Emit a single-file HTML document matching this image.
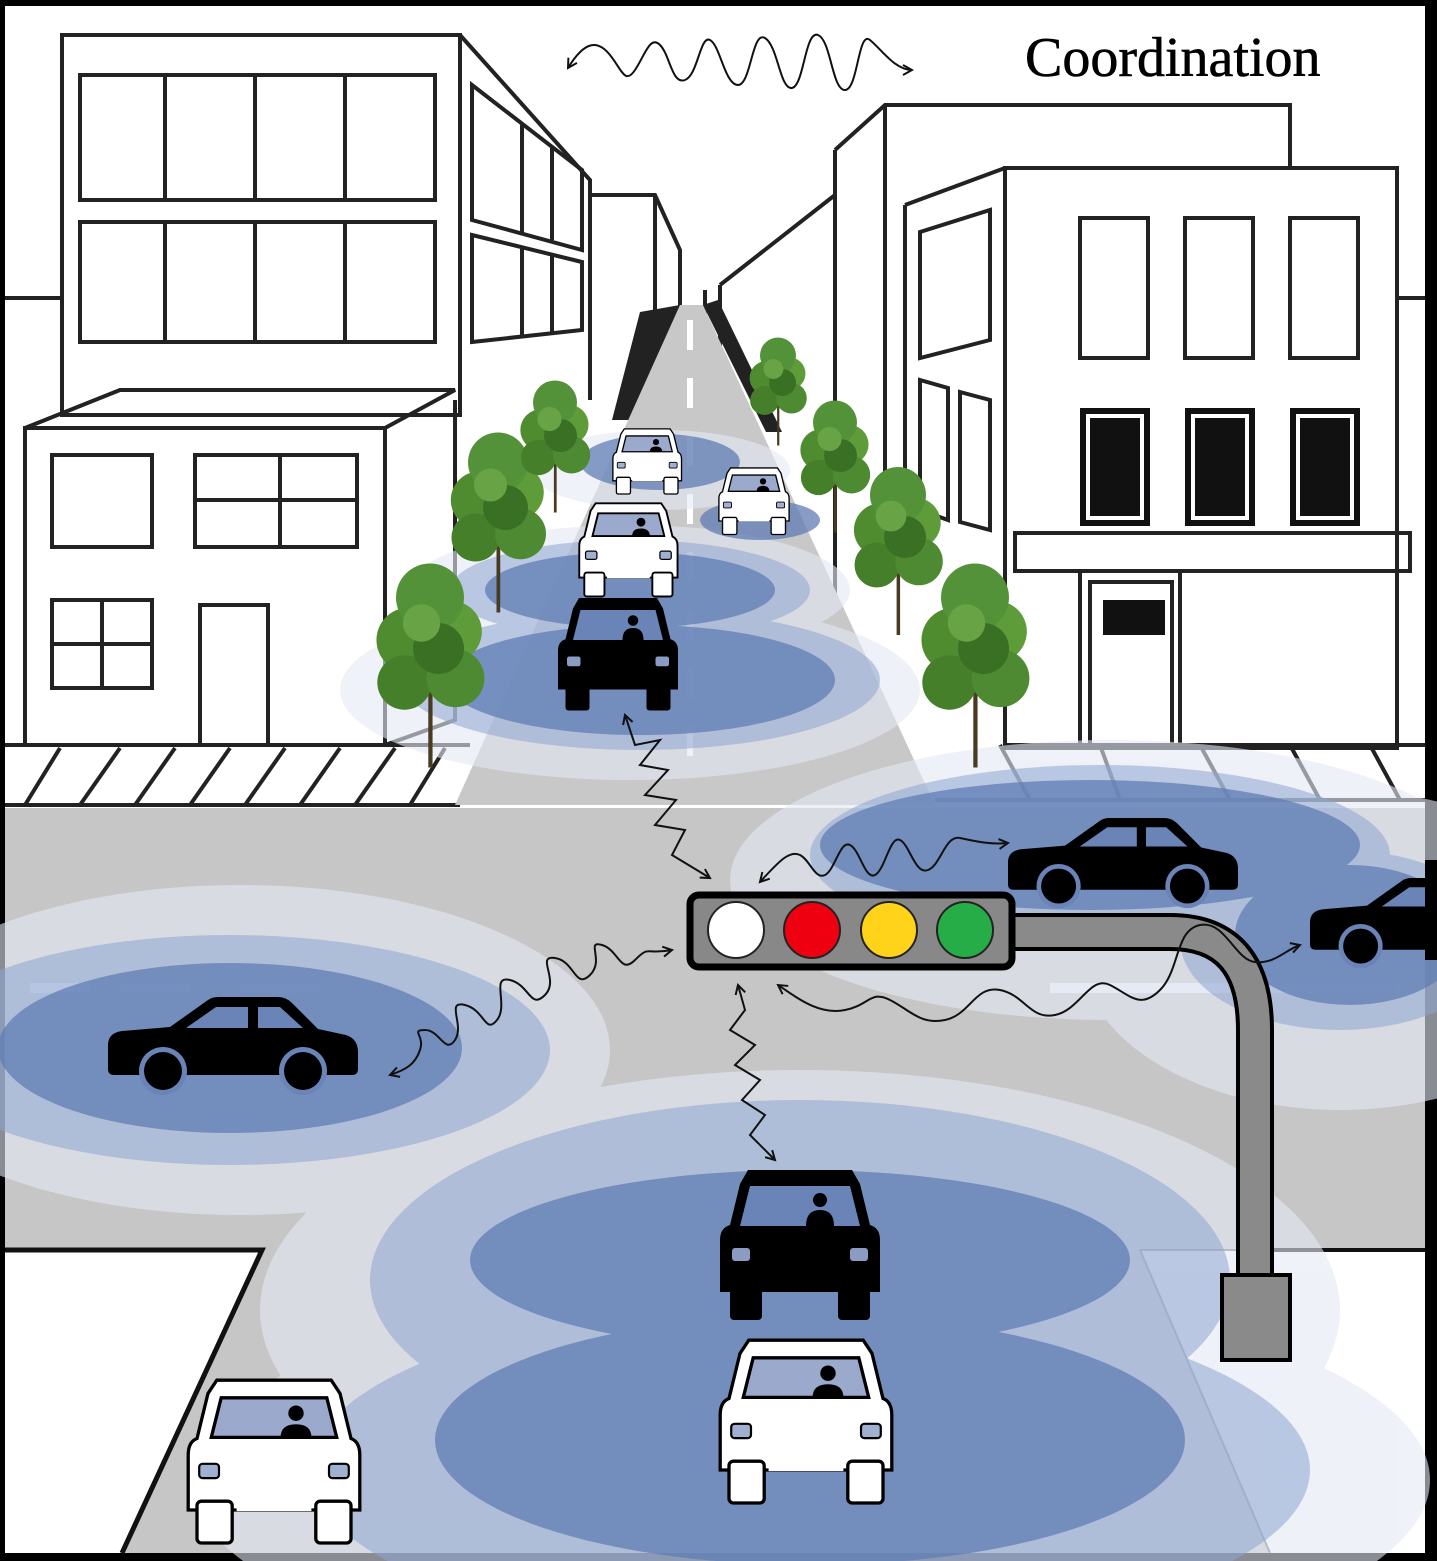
<!DOCTYPE html>
<html><head><meta charset="utf-8">
<style>
html,body{margin:0;padding:0;background:#000;width:1437px;height:1561px;overflow:hidden;}
svg{display:block;}
</style></head>
<body>
<svg width="1437" height="1561" viewBox="0 0 1437 1561" xmlns="http://www.w3.org/2000/svg">
<defs>
<marker id="ah" viewBox="0 0 12 12" refX="10" refY="6" markerWidth="12" markerHeight="12" markerUnits="userSpaceOnUse" orient="auto-start-reverse">
<path d="M1,1 L10,6 L1,11" fill="none" stroke="#111" stroke-width="2"/>
</marker>
<g id="fcarB">
<path d="M28,0 H132 L140,14 L150,55 Q160,58 160,70 V122 H0 V70 Q0,58 10,55 L20,14 Z" fill="#000"/>
<path d="M30,16 H130 L140,56 H20 Z" fill="#6a84b8"/>
<circle cx="100" cy="30" r="7" fill="#000"/><path d="M86,56 Q86,40 100,40 Q114,40 114,56Z" fill="#000"/>
<rect x="10" y="112" width="32" height="38" rx="4" fill="#000"/>
<rect x="118" y="112" width="32" height="38" rx="4" fill="#000"/>
<rect x="12" y="78" width="18" height="13" rx="3" fill="#8a9cc2"/>
<rect x="130" y="78" width="18" height="13" rx="3" fill="#8a9cc2"/>
</g>
<g id="fcarW">
<path d="M28,2 H132 L140,14 L150,55 Q158,58 158,70 V120 H2 V70 Q2,58 10,55 L20,14 Z" fill="#fff" stroke="#000" stroke-width="3"/>
<path d="M32,18 H128 L137,54 H23 Z" fill="#9aa9cc" stroke="#000" stroke-width="3"/>
<circle cx="100" cy="32" r="7" fill="#000"/><path d="M86,54 Q86,42 100,42 Q114,42 114,54Z" fill="#000"/>
<rect x="10" y="112" width="32" height="38" rx="4" fill="#fff" stroke="#000" stroke-width="3"/>
<rect x="118" y="112" width="32" height="38" rx="4" fill="#fff" stroke="#000" stroke-width="3"/>
<rect x="46" y="111" width="68" height="10" fill="#fff"/>
<rect x="12" y="78" width="18" height="13" rx="3" fill="#a0b0d0" stroke="#000" stroke-width="2"/>
<rect x="130" y="78" width="18" height="13" rx="3" fill="#a0b0d0" stroke="#000" stroke-width="2"/>
</g>
<g id="scar">
<path d="M0,48 Q0,36 14,34 L62,30 L100,3 Q104,0 110,0 H170 Q178,0 184,6 L210,32 L238,38 Q250,42 250,55 V72 Q250,78 244,78 H6 Q0,78 0,72 Z" fill="#000"/>
<path d="M78,31 L108,10 H140 V31 Z" fill="#6a84b8"/>
<path d="M150,10 H172 L195,31 H150 Z" fill="#6a84b8"/>
<circle cx="55" cy="74" r="24" fill="#6a84b8"/><circle cx="55" cy="74" r="19" fill="#000"/>
<circle cx="195" cy="74" r="24" fill="#6a84b8"/><circle cx="195" cy="74" r="19" fill="#000"/>
</g>
<g id="tree">
<rect x="-2" y="40" width="5" height="110" fill="#4a3a22"/>
<circle cx="-25" cy="0" r="38" fill="#4f8c30"/>
<circle cx="25" cy="-10" r="36" fill="#5e9c3a"/>
<circle cx="0" cy="-50" r="40" fill="#54923a"/>
<circle cx="-30" cy="50" r="32" fill="#457f2a"/>
<circle cx="30" cy="45" r="34" fill="#4e8a32"/>
<circle cx="10" cy="10" r="30" fill="#3a7024"/>
<circle cx="-10" cy="-20" r="22" fill="#68a446"/>
</g>
</defs>

<rect x="0" y="0" width="1437" height="1561" fill="#000"/>
<rect x="5" y="6" width="1420" height="1547" fill="#fff"/>

<g fill="none" stroke="#222" stroke-width="4">
<rect x="62" y="35" width="398" height="380"/>
<path d="M460,35 L590,180 V400"/>
<path d="M590,195 H655 L680,250 V380 M655,195 V380"/>
<rect x="80" y="75" width="355" height="125"/>
<path d="M165,75 V200 M255,75 V200 M345,75 V200"/>
<rect x="80" y="222" width="355" height="120"/>
<path d="M165,222 V342 M255,222 V342 M345,222 V342"/>
<path d="M472,85 L582,170 V250 L472,220 Z M522,125 V235 M552,148 V240"/>
<path d="M472,235 L582,262 V330 L472,342 Z M522,247 V335 M552,255 V333"/>
<path d="M5,298 H62"/>
<path d="M25,428 L120,390 H455 L385,428 H25 V745"/>
<path d="M385,428 V745"/>
<rect x="52" y="455" width="100" height="92"/>
<rect x="195" y="455" width="162" height="92"/><path d="M280,455 V547 M195,500 H357"/>
<rect x="52" y="600" width="100" height="88"/><path d="M102,600 V688 M52,644 H152"/>
<path d="M200,745 V605 H268 V745"/>
<path d="M385,745 L455,720 V400"/>
<path d="M5,745 H470 M5,805 H460 M25,805 L60,748 M80,805 L120,748 M135,805 L175,748 M190,805 L230,748 M245,805 L285,748 M300,805 L340,748 M355,805 L395,748 M410,805 L445,748"/>
<path d="M835,150 L885,105 H1290 V168 M835,150 V620 M885,105 V560"/>
<path d="M720,285 L835,195 M720,285 V500 M705,290 V480"/>
<rect x="1005" y="168" width="392" height="580"/>
<path d="M905,205 L1005,168 M905,205 V560"/>
<path d="M1397,298 H1425"/>
<rect x="1080" y="218" width="68" height="140"/>
<rect x="1185" y="218" width="68" height="140"/>
<rect x="1290" y="218" width="68" height="140"/>
<path d="M920,232 L990,210 V340 L920,358 Z"/>
<path d="M920,380 L948,388 V520 L920,510 Z M960,392 L990,400 V530 L960,522 Z"/>
<rect x="1015" y="533" width="395" height="38"/>
<path d="M1080,571 V745 M1180,571 V745"/>
<rect x="1090" y="582" width="82" height="163"/>
<path d="M1005,745 H1425 M935,800 H1425 M1000,745 L1030,800 M1100,745 L1120,800 M1200,745 L1230,800 M1290,745 L1320,800 M1370,745 L1400,800"/>
</g>
<g fill="#111">
<rect x="1080" y="408" width="70" height="118"/>
<rect x="1185" y="408" width="70" height="118"/>
<rect x="1290" y="408" width="70" height="118"/>
<rect x="1103" y="600" width="62" height="35"/>
</g>
<g fill="none" stroke="#fff" stroke-width="4">
<rect x="1088" y="416" width="54" height="102"/><rect x="1193" y="416" width="54" height="102"/><rect x="1298" y="416" width="54" height="102"/>
</g>

<!-- street -->
<path d="M640,312 L680,305 L632,420 L612,420 Z" fill="#222"/>
<path d="M703,305 L718,300 L782,432 L766,432 Z" fill="#222"/>
<polygon points="455,805 935,805 703,305 680,305" fill="#c8c8c8"/>
<path d="M690,320 V760" stroke="#fff" stroke-width="6" stroke-dasharray="30,28"/>

<!-- main road -->
<rect x="5" y="808" width="1420" height="442" fill="#c6c6c6"/>
<polygon points="262,1250 1140,1250 1270,1553 120,1553" fill="#c6c6c6"/>
<path d="M5,1250 H262 L122,1553" fill="none" stroke="#111" stroke-width="5"/>
<path d="M1238,1250 H1425" stroke="#111" stroke-width="4"/>
<path d="M1140,1250 H1238 M1140,1250 L1270,1553" stroke="#777" stroke-width="2" fill="none"/>
<path d="M30,988 H90 M120,988 H190 M240,988 H320 M1050,988 H1400" stroke="#e8eef8" stroke-width="10"/>

<!-- signal rings -->
<g fill="#e4e9f3" opacity="0.6"><ellipse cx="240" cy="1050" rx="370" ry="165"/><ellipse cx="800" cy="1310" rx="540" ry="240"/><ellipse cx="810" cy="1480" rx="620" ry="200"/><ellipse cx="1110" cy="880" rx="380" ry="140"/><ellipse cx="1340" cy="950" rx="260" ry="160"/><ellipse cx="630" cy="690" rx="290" ry="90"/><ellipse cx="630" cy="590" rx="220" ry="65"/><ellipse cx="660" cy="470" rx="130" ry="40"/></g>
<g fill="#8ea6d2" opacity="0.55"><ellipse cx="230" cy="1050" rx="320" ry="115"/><ellipse cx="800" cy="1280" rx="430" ry="180"/><ellipse cx="810" cy="1470" rx="500" ry="170"/><ellipse cx="1100" cy="855" rx="290" ry="90"/><ellipse cx="1340" cy="940" rx="160" ry="90"/><ellipse cx="640" cy="680" rx="240" ry="70"/><ellipse cx="630" cy="590" rx="180" ry="50"/></g>
<g fill="#5f7db4" opacity="0.75"><ellipse cx="230" cy="1048" rx="232" ry="85"/><ellipse cx="800" cy="1260" rx="330" ry="90"/><ellipse cx="810" cy="1440" rx="375" ry="125"/><ellipse cx="1090" cy="845" rx="270" ry="65"/><ellipse cx="1350" cy="935" rx="115" ry="70"/><ellipse cx="640" cy="680" rx="195" ry="55"/><ellipse cx="630" cy="590" rx="145" ry="38"/><ellipse cx="660" cy="462" rx="80" ry="28"/><ellipse cx="760" cy="520" rx="60" ry="20"/></g>

<!-- trees -->
<use href="#tree" transform="translate(430,640) scale(0.85)"/>
<use href="#tree" transform="translate(498,500) scale(0.75)"/>
<use href="#tree" transform="translate(555,430) scale(0.55)"/>
<use href="#tree" transform="translate(778,378) scale(0.45)"/>
<use href="#tree" transform="translate(835,450) scale(0.55)"/>
<use href="#tree" transform="translate(898,530) scale(0.7)"/>
<use href="#tree" transform="translate(975,640) scale(0.85)"/>

<!-- cars -->
<use href="#scar" transform="translate(108,997)"/>
<use href="#scar" transform="translate(1008,818) scale(0.92)"/>
<use href="#scar" transform="translate(1310,878) scale(0.92)"/>
<rect x="1425" y="860" width="12" height="100" fill="#000"/>
<use href="#fcarB" transform="translate(720,1170)"/>
<use href="#fcarB" transform="translate(558,598) scale(0.75)"/>
<use href="#fcarW" transform="translate(718,1338) scale(1.1)"/>
<use href="#fcarW" transform="translate(186,1378) scale(1.1)"/>
<use href="#fcarW" transform="translate(578,502) scale(0.63)"/>
<use href="#fcarW" transform="translate(612,428) scale(0.44)"/>
<use href="#fcarW" transform="translate(718,467) scale(0.45)"/>

<!-- pole -->
<path d="M1005,932 H1170 Q1255,932 1255,1030 V1280" fill="none" stroke="#000" stroke-width="38"/>
<path d="M1005,932 H1170 Q1255,932 1255,1030 V1280" fill="none" stroke="#8a8a8a" stroke-width="30"/>
<rect x="1222" y="1275" width="68" height="85" fill="#8a8a8a" stroke="#000" stroke-width="4"/>
<rect x="690" y="895" width="322" height="72" rx="9" fill="#888" stroke="#000" stroke-width="7"/>
<circle cx="736" cy="930" r="28" fill="#fff" stroke="#222" stroke-width="2"/>
<circle cx="812" cy="930" r="28" fill="#ee0010" stroke="#222" stroke-width="2"/>
<circle cx="889" cy="930" r="28" fill="#ffd31a" stroke="#222" stroke-width="2"/>
<circle cx="965" cy="930" r="28" fill="#27ad48" stroke="#222" stroke-width="2"/>

<!-- waves -->
<g fill="none" stroke="#111" stroke-width="2" marker-start="url(#ah)" marker-end="url(#ah)">
<path d="M568,68 C585,40 598,40 610,55 S625,85 635,70 S650,35 660,45 S672,85 685,80 S700,35 710,40 S725,85 738,85 S752,30 765,38 S780,90 792,88 S805,30 818,35 S832,90 845,90 S858,30 870,40 S895,70 912,70"/>
<path d="M625,715 L635,745 L660,740 L640,765 L668,770 L645,795 L676,800 L655,825 L685,830 L672,855 L710,878"/>
<path d="M760,882 C780,860 790,850 800,855 S815,880 825,875 S840,840 850,845 S865,880 875,875 S890,835 900,840 S915,875 928,870 S945,835 960,838 S990,845 1008,843"/>
<path d="M390,1075 C405,1070 415,1065 420,1050 S410,1030 425,1030 S445,1055 455,1040 S445,1000 465,1005 S485,1035 497,1020 S490,975 510,980 S530,1010 545,995 S535,955 555,958 S575,990 590,975 S585,940 602,945 S620,975 635,960 S645,955 672,950"/>
<path d="M738,985 L745,1010 L730,1030 L755,1045 L735,1065 L760,1080 L742,1100 L765,1115 L750,1135 L775,1160"/>
<path d="M778,985 C800,1000 820,1015 845,1010 S870,990 890,1000 S920,1025 945,1020 S975,985 1000,990 S1030,1020 1055,1015 S1090,975 1110,985 S1140,1010 1160,990 S1175,930 1200,925 S1235,960 1255,962 S1285,950 1300,945"/>
</g>

<text x="1025" y="76" font-family="Liberation Serif, serif" font-size="56" fill="#000" stroke="#000" stroke-width="0.6">Coordination</text>
</svg>
</body></html>
